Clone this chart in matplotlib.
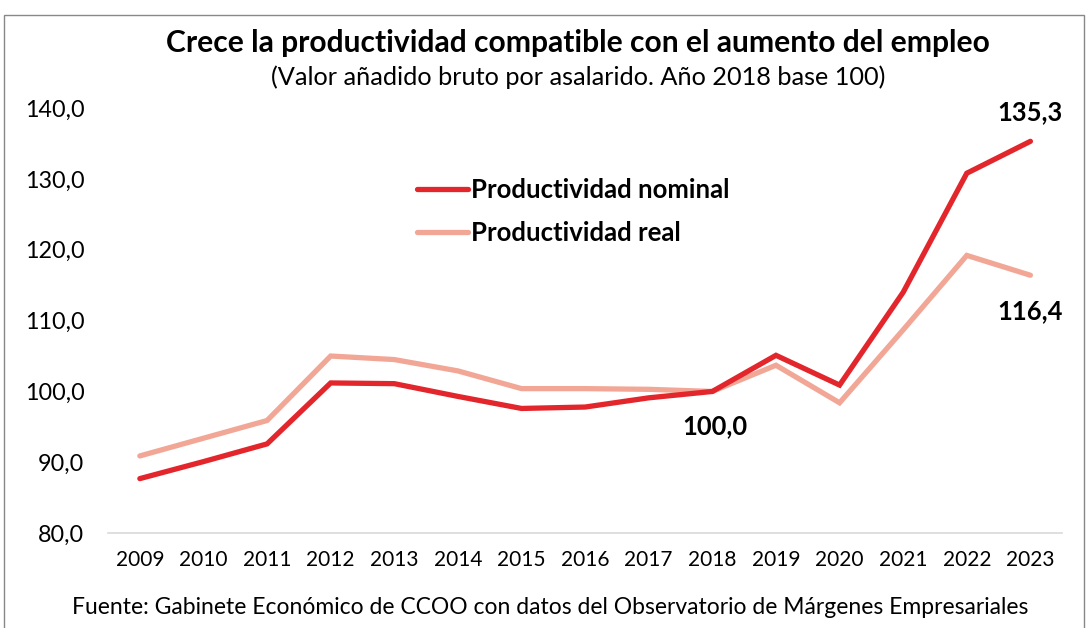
import matplotlib
matplotlib.use("Agg")
import matplotlib.pyplot as plt
from matplotlib.patches import Rectangle

plt.rcParams["font.family"] = ["Lato", "DejaVu Sans"]

years = ["2009", "2010", "2011", "2012", "2013", "2014", "2015", "2016",
         "2017", "2018", "2019", "2020", "2021", "2022", "2023"]
nominal = [87.7, 90.1, 92.6, 101.2, 101.1, 99.3, 97.6, 97.8,
           99.1, 100.0, 105.1, 100.9, 114.0, 130.8, 135.3]
real = [90.9, 93.4, 95.9, 105.0, 104.5, 102.9, 100.4, 100.4,
        100.3, 100.0, 103.7, 98.4, 108.7, 119.2, 116.4]
yticks = [80, 90, 100, 110, 120, 130, 140]

RED = "#e3262b"
PINK = "#f2a796"


def fmt(v):
    return f"{v:.1f}".replace(".", ",")


fig = plt.figure(figsize=(10.88, 6.28), dpi=100)
ax = fig.add_axes([0.0993, 0.151, 0.877, 0.677])

x = list(range(len(years)))
ax.plot(x, nominal, color=RED, lw=3.8, solid_capstyle="round",
        solid_joinstyle="miter", label="Productividad nominal", zorder=3)
ax.plot(x, real, color=PINK, lw=3.8, solid_capstyle="round",
        solid_joinstyle="miter", label="Productividad real", zorder=2)

ax.set_xlim(-0.5, len(years) - 0.5)
ax.set_ylim(80, 140)
ax.set_xticks(x)
ax.set_xticklabels(years, fontsize=15)
ax.set_yticks(yticks)
ax.set_yticklabels([fmt(v) for v in yticks], fontsize=16.8)
ax.tick_params(length=0, pad=12)
ax.tick_params(axis="y", pad=17)
for s in ["top", "right", "left"]:
    ax.spines[s].set_visible(False)
ax.spines["bottom"].set_color("#d9d9d9")
ax.spines["bottom"].set_linewidth(1.2)

# value labels
ax.annotate(fmt(nominal[-1]), (x[-1], nominal[-1]),
            xytext=(0, 21), textcoords="offset points", ha="center", va="center",
            fontsize=18.4, fontweight="bold")
ax.annotate(fmt(real[-1]), (x[-1], real[-1]),
            xytext=(0, -26), textcoords="offset points", ha="center", va="center",
            fontsize=18.4, fontweight="bold")
ax.annotate(fmt(nominal[9]), (x[9], nominal[9]),
            xytext=(2, -25), textcoords="offset points", ha="center", va="center",
            fontsize=18.4, fontweight="bold")

ax.legend(loc="upper left", bbox_to_anchor=(0.3, 0.89), frameon=False,
          prop={"size": 18.5, "weight": "bold"}, handlelength=1.95,
          handletextpad=0.15, labelspacing=0.75)

fig.text(0.531, 0.931, "Crece la productividad compatible con el aumento del empleo",
         ha="center", va="center", fontsize=21.6, fontweight="bold")
fig.text(0.531, 0.877, "(Valor añadido bruto por asalarido. Año 2018 base 100)",
         ha="center", va="center", fontsize=18.2)
fig.text(0.506, 0.033, "Fuente: Gabinete Económico de CCOO con datos del Observatorio de Márgenes Empresariales",
         ha="center", va="center", fontsize=16.5)

fig.patches.append(Rectangle((0.004, -0.01), 0.992, 0.986, transform=fig.transFigure,
                             fill=False, edgecolor="#888888", lw=1.0))

fig.savefig("out.png", dpi=100)
